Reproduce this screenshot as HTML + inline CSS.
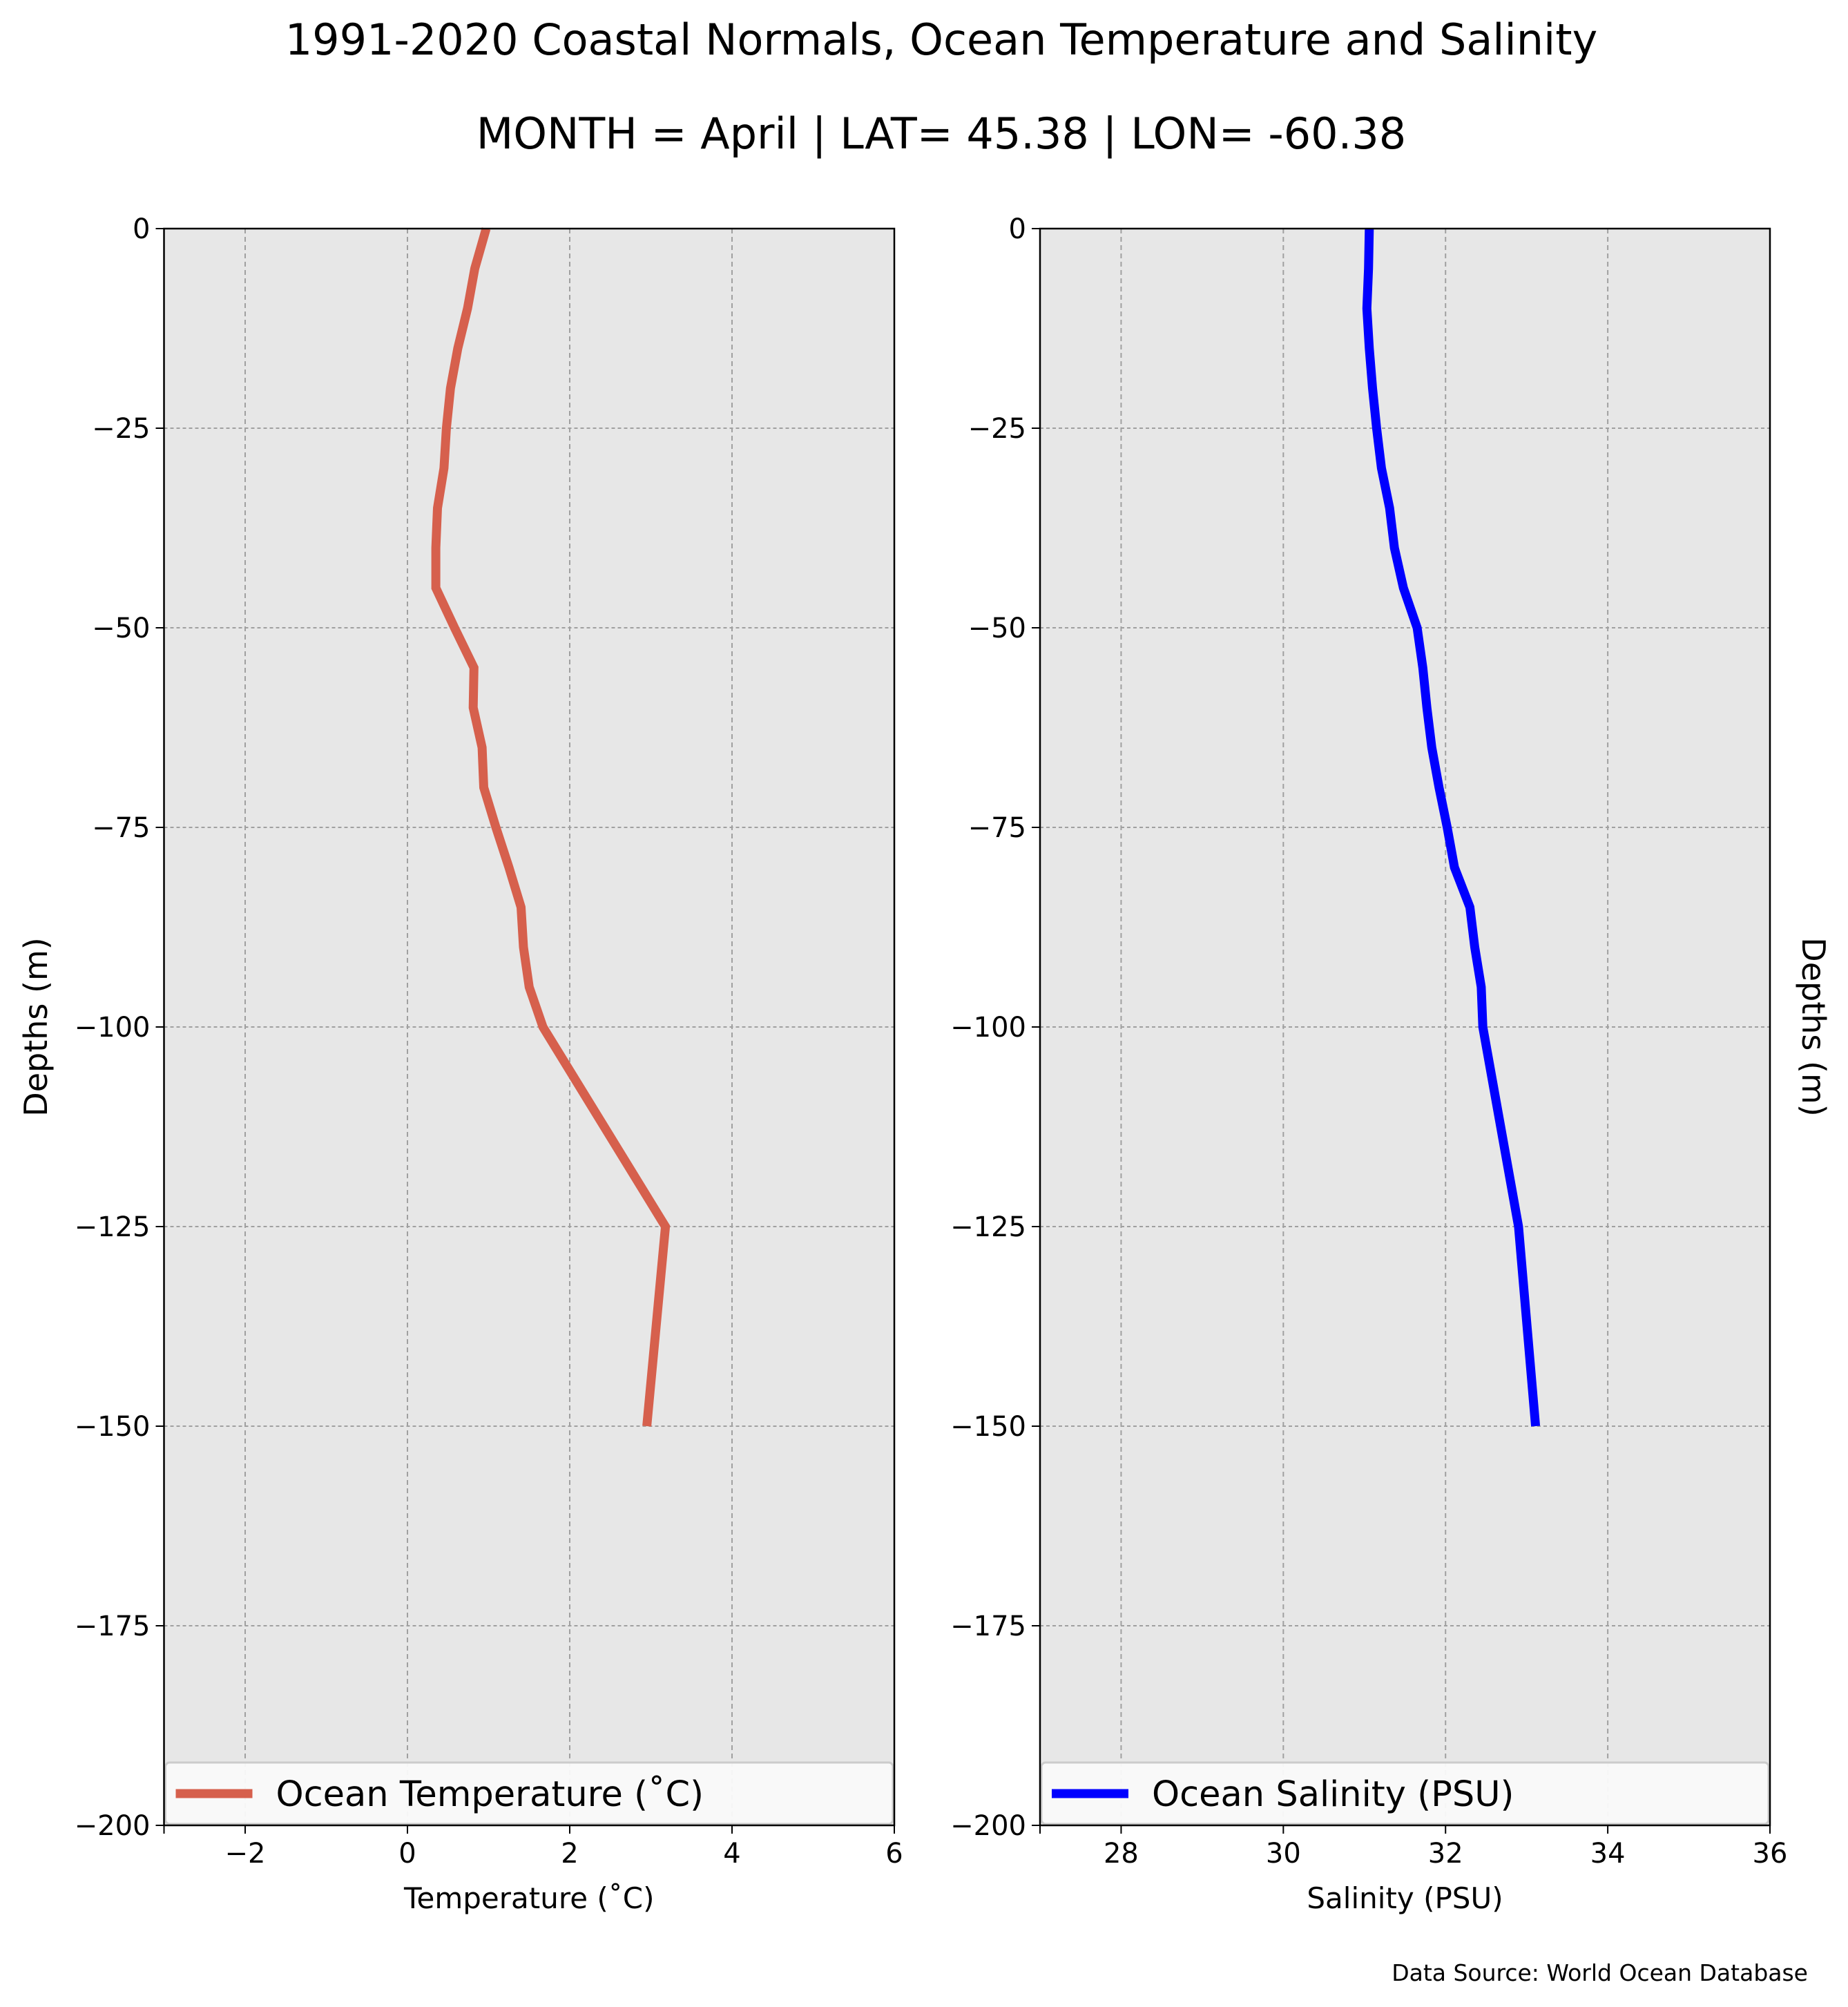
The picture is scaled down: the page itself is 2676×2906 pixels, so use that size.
<!DOCTYPE html>
<html><head><meta charset="utf-8"><style>
body{margin:0;background:#fff}
svg text{font-family:"DejaVu Sans","Liberation Sans",sans-serif}
</style></head><body>
<svg id="chart" width="2676" height="2901" viewBox="0 0 2676 2901" xmlns="http://www.w3.org/2000/svg">
<text x="1363" y="79" font-size="62" text-anchor="middle">1991-2020 Coastal Normals, Ocean Temperature and Salinity</text>
<text x="1363" y="215" font-size="62" text-anchor="middle">MONTH = April | LAT= 45.38 | LON= -60.38</text>
<g id="left"></g>
<g id="right"></g>
<text transform="translate(68,1487) rotate(-90)" font-size="46" text-anchor="middle">Depths (m)</text>
<text transform="translate(2610,1487) rotate(90)" font-size="46" text-anchor="middle">Depths (m)</text>
<text x="2618" y="2868" font-size="33" text-anchor="end">Data Source: World Ocean Database</text>
</svg>
<script>
const depths = [0,-5,-10,-15,-20,-25,-30,-35,-40,-45,-50,-55,-60,-65,-70,-75,-80,-85,-90,-95,-100,-125,-150];
const temperature = [0.97,0.83,0.74,0.62,0.53,0.48,0.45,0.37,0.35,0.35,0.58,0.82,0.81,0.92,0.94,1.09,1.25,1.40,1.43,1.50,1.67,3.18,2.95];
const salinity = [31.06,31.05,31.03,31.06,31.10,31.15,31.21,31.31,31.37,31.48,31.65,31.72,31.77,31.83,31.92,32.02,32.11,32.30,32.36,32.44,32.46,32.90,33.11];
const yTicks = [0,-25,-50,-75,-100,-125,-150,-175,-200];
const tempTicks = [-2,0,2,4,6];
const salTicks = [28,30,32,34,36];
const NS='http://www.w3.org/2000/svg';
const TOP=331, BOT=2643;
function yScale(d){return TOP+(0-d)/200*(BOT-TOP);}
function mk(tag,attrs,parent){const e=document.createElementNS(NS,tag);for(const k in attrs)e.setAttribute(k,attrs[k]);parent.appendChild(e);return e;}
function panel(g,x0,x1,xmin,xmax,xticks,values,color,legendText,xlabel,pfx){
  const xs=v=>x0+(v-xmin)/(xmax-xmin)*(x1-x0);
  const bg=mk('rect',{x:x0,y:TOP,width:x1-x0,height:BOT-TOP,fill:'#e7e7e7'},g);
  
  
  xticks.forEach(t=>{
    const l=mk('line',{x1:xs(t),x2:xs(t),y1:TOP,y2:BOT,stroke:'#a0a0a0','stroke-width':2,'stroke-dasharray':'7,5'},g);
    
    
    const tk=mk('line',{x1:xs(t),x2:xs(t),y1:BOT,y2:BOT+12,stroke:'#000','stroke-width':2},g);
    
    
    const tx=mk('text',{x:xs(t),y:2697,'font-size':40,'text-anchor':'middle'},g);
    tx.textContent=String(t).replace('-','\u2212');
    
    
  });
  const tk0=mk('line',{x1:x0,x2:x0,y1:BOT,y2:BOT+12,stroke:'#000','stroke-width':2},g);
  
  
  yTicks.forEach(t=>{
    const y=yScale(t);
    if(t!==0&&t!==-200){
      const l=mk('line',{x1:x0,x2:x1,y1:y,y2:y,stroke:'#a0a0a0','stroke-width':2,'stroke-dasharray':'5,4'},g);
      
      
    }
    const tk=mk('line',{x1:x0-12,x2:x0,y1:y,y2:y,stroke:'#000','stroke-width':2},g);
    
    
    const tx=mk('text',{x:x0-20,y:y+14,'font-size':40,'text-anchor':'end'},g);
    tx.textContent=String(t).replace('-','\u2212');
    
    
  });
  const pts=depths.map((d,i)=>xs(values[i]).toFixed(1)+','+yScale(d).toFixed(1)).join(' ');
  const pl=mk('polyline',{points:pts,fill:'none',stroke:color,'stroke-width':13},g);
  
  
  const lg=mk('rect',{x:x0+2,y:2552,width:x1-x0-4,height:BOT-2552-2,rx:6,fill:'#fafafa','fill-opacity':0.95,stroke:'#cccccc','stroke-width':3},g);
  
  
  const ll=mk('line',{x1:x0+17,x2:x0+128,y1:2597,y2:2597,stroke:color,'stroke-width':13},g);
  
  
  const lt=mk('text',{x:x0+162,y:2615,'font-size':51},g);
  lt.textContent=legendText;
  
  
  const fr=mk('rect',{x:x0,y:TOP,width:x1-x0,height:BOT-TOP,fill:'none',stroke:'#000','stroke-width':2.5},g);
  
  
  const xl=mk('text',{x:(x0+x1)/2,y:2763,'font-size':42,'text-anchor':'middle'},g);
  xl.textContent=xlabel;
  
  
}
panel(document.getElementById('left'),237.5,1295,-3,6,tempTicks,temperature,'#d6604d','Ocean Temperature (\u02DAC)','Temperature (\u02DAC)','temperature');
panel(document.getElementById('right'),1506,2563,27,36,salTicks,salinity,'#0000ff','Ocean Salinity (PSU)','Salinity (PSU)','salinity');
</script>
</body></html>
